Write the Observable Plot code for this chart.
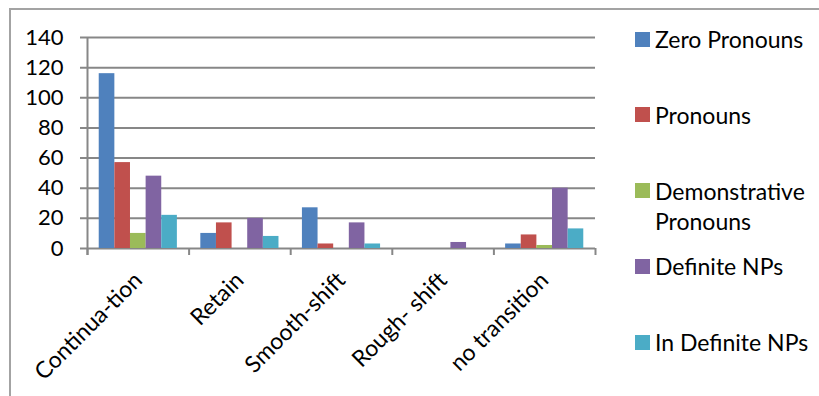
<!DOCTYPE html>
<html>
<head>
<meta charset="utf-8">
<script src="https://cdn.jsdelivr.net/npm/d3@7"></script>
<script src="https://cdn.jsdelivr.net/npm/@observablehq/plot@0.6"></script>
<style>
  body { margin: 0; background: #fff; }
  #chart { position: relative; width: 819px; height: 396px; overflow: hidden; font-family: Lato, sans-serif; }
  #border { position: absolute; left: 9px; top: 8px; width: 900px; height: 500px; border: 2px solid #a3a3a3; box-sizing: border-box; }
  #plot { position: absolute; left: 0; top: 0; }
  .item { position: absolute; left: 635px; }
  .swatch { position: absolute; left: 0; width: 15px; height: 15px; }
  .label { position: absolute; left: 20px; width: 160px; font-size: 23px; line-height: 30px; color: #000; }
</style>
</head>
<body>
<div id="chart">
  <div id="border"></div>
  <div id="plot"></div>
  <div id="legend"></div>
</div>
<script>
// Centering transition categories and referring-expression counts
const categories = ["Continua-tion", "Retain", "Smooth-shift", "Rough- shift", "no transition"];
const series = ["Zero Pronouns", "Pronouns", "Demonstrative Pronouns", "Definite NPs", "In Definite NPs"];
const zeroPronouns = [116, 10, 27, 0, 3];
const pronouns = [57, 17, 3, 0, 9];
const demonstrativePronouns = [10, 0, 0, 0, 2];
const definiteNPs = [48, 20, 17, 4, 40];
const indefiniteNPs = [22, 8, 3, 0, 13];
const yTicks = [0, 20, 40, 60, 80, 100, 120, 140];
const colors = ["#4f81bd", "#c0504d", "#9bbb59", "#8064a2", "#4bacc6"];

const seriesValues = [zeroPronouns, pronouns, demonstrativePronouns, definiteNPs, indefiniteNPs];
const rows = [];
categories.forEach((category, ci) => {
  series.forEach((name, si) => {
    rows.push({category, ci, series: name, si, value: seriesValues[si][ci]});
  });
});

// clustered columns: gap between clusters is 150% of one column width
const gap = 1.5;
const colW = 1 / (series.length + gap);
const gridColor = "#878787";

const plot = Plot.plot({
  width: 600,
  height: 396,
  marginLeft: 87,
  marginRight: 5,
  marginTop: 37,
  marginBottom: 148,
  style: { fontFamily: "Lato, sans-serif", fontSize: "23px", color: "#000", background: "transparent" },
  x: { type: "linear", domain: [0, categories.length] },
  y: { domain: [0, 140] },
  color: { domain: series, range: colors },
  marks: [
    Plot.ruleY(yTicks, { stroke: gridColor, strokeWidth: 2, insetLeft: -7 }),
    Plot.ruleX([0], { stroke: gridColor, strokeWidth: 2, insetBottom: -7 }),
    Plot.axisX({ ticks: d3.range(categories.length + 1), tickSize: 7, tickFormat: () => "", stroke: gridColor, strokeWidth: 2, label: null }),
    Plot.axisY({ ticks: yTicks, tickSize: 0, tickPadding: 24, fontSize: 22, fill: "#000", label: null }),
    Plot.rectY(rows, {
      x1: d => d.ci + (gap / 2 + d.si) * colW,
      x2: d => d.ci + (gap / 2 + d.si + 1) * colW,
      y: "value",
      fill: "series"
    }),
    Plot.text(categories, {
      x: (d, i) => i + 0.5,
      y: () => 0,
      text: d => d,
      rotate: -45,
      textAnchor: "end",
      lineAnchor: "middle",
      dy: 28,
      fontSize: 23,
      fill: "#000"
    })
  ]
});
document.getElementById("plot").appendChild(plot);

// legend: one entry per series, evenly spaced down the right side
const legend = document.getElementById("legend");
series.forEach((name, i) => {
  const cy = 39 + i * 75.75;
  const item = document.createElement("div");
  item.className = "item";
  item.style.top = (cy - 15) + "px";
  item.innerHTML = `<div class="swatch" style="top:7.5px;background:${colors[i]}"></div><div class="label">${name}</div>`;
  legend.appendChild(item);
});
</script>
</body>
</html>
